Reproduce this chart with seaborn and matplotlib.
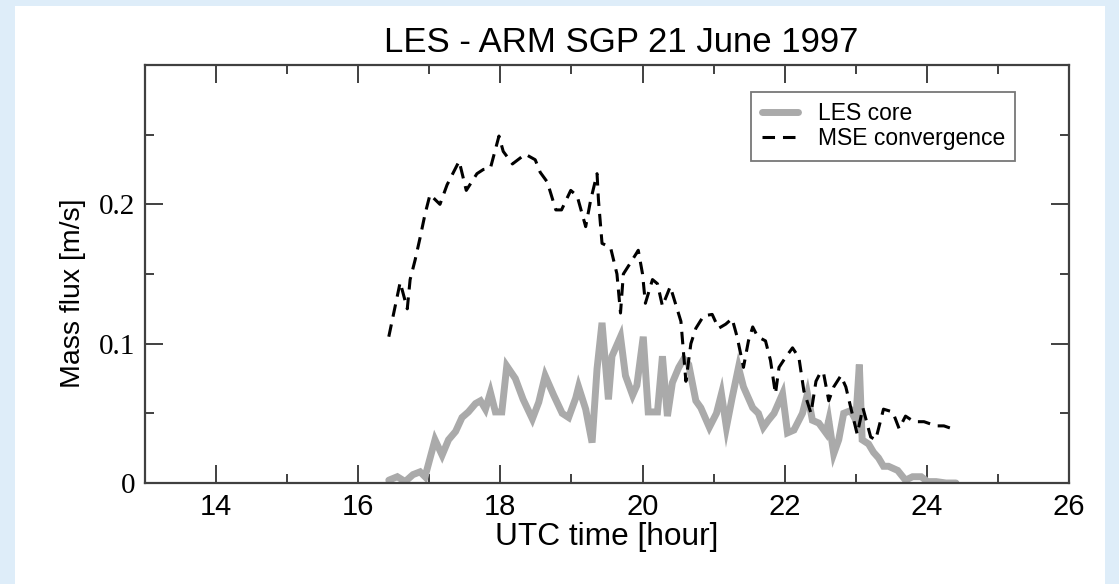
import numpy as np
import pandas as pd
import matplotlib
matplotlib.use("Agg")
import matplotlib.pyplot as plt
import seaborn as sns
from matplotlib.patches import Rectangle
from matplotlib.ticker import MultipleLocator

# ---- data ----
mse_hour = [16.43, 16.59, 16.69, 16.73, 16.80, 16.87, 16.94, 17.01, 17.15, 17.25,
            17.42, 17.52, 17.67, 17.76, 17.86, 17.98, 18.04, 18.17, 18.35, 18.49,
            18.56, 18.66, 18.78, 18.86, 18.99, 19.08, 19.20, 19.27, 19.36, 19.38,
            19.43, 19.55, 19.64, 19.69, 19.73, 19.83, 19.94, 20.00, 20.04, 20.14,
            20.21, 20.28, 20.39, 20.54, 20.61, 20.68, 20.75, 20.86, 20.98, 21.07,
            21.17, 21.26, 21.33, 21.42, 21.49, 21.55, 21.62, 21.73, 21.80, 21.87,
            21.92, 22.01, 22.11, 22.20, 22.27, 22.37, 22.44, 22.51, 22.55, 22.62,
            22.69, 22.79, 22.86, 22.93, 23.02, 23.10, 23.21, 23.28, 23.35, 23.39,
            23.52, 23.61, 23.70, 23.82, 23.96, 24.13, 24.24, 24.41]
mse_flux = [0.105, 0.144, 0.125, 0.146, 0.160, 0.176, 0.193, 0.207, 0.200, 0.214,
            0.231, 0.210, 0.222, 0.225, 0.226, 0.249, 0.238, 0.229, 0.236, 0.232,
            0.223, 0.216, 0.196, 0.196, 0.210, 0.206, 0.184, 0.203, 0.222, 0.203,
            0.172, 0.169, 0.150, 0.122, 0.150, 0.158, 0.167, 0.150, 0.129, 0.146,
            0.143, 0.127, 0.141, 0.116, 0.073, 0.100, 0.111, 0.120, 0.121, 0.111,
            0.114, 0.118, 0.105, 0.083, 0.102, 0.112, 0.105, 0.102, 0.088, 0.064,
            0.083, 0.090, 0.097, 0.090, 0.066, 0.050, 0.073, 0.080, 0.078, 0.059,
            0.069, 0.077, 0.069, 0.054, 0.035, 0.054, 0.033, 0.031, 0.045, 0.053,
            0.051, 0.039, 0.048, 0.044, 0.044, 0.041, 0.041, 0.038]

les_hour = [16.43, 16.55, 16.66, 16.77, 16.87, 16.94, 17.08, 17.18, 17.27, 17.37,
            17.46, 17.55, 17.65, 17.72, 17.79, 17.86, 17.93, 18.02, 18.09, 18.21,
            18.32, 18.45, 18.54, 18.63, 18.75, 18.87, 18.96, 19.06, 19.10, 19.20,
            19.29, 19.36, 19.43, 19.52, 19.57, 19.69, 19.76, 19.86, 19.92, 20.01,
            20.08, 20.21, 20.28, 20.35, 20.42, 20.51, 20.58, 20.65, 20.75, 20.82,
            20.94, 21.04, 21.11, 21.18, 21.26, 21.35, 21.42, 21.55, 21.63, 21.70,
            21.77, 21.85, 21.97, 22.04, 22.13, 22.25, 22.32, 22.39, 22.48, 22.58,
            22.62, 22.69, 22.76, 22.83, 22.93, 23.00, 23.05, 23.09, 23.18, 23.25,
            23.32, 23.39, 23.46, 23.59, 23.70, 23.80, 23.92, 24.01, 24.13, 24.27,
            24.41]
les_flux = [0.002, 0.0045, 0.001, 0.006, 0.008, 0.0045, 0.031, 0.020, 0.031, 0.037,
            0.047, 0.051, 0.057, 0.059, 0.053, 0.065, 0.051, 0.051, 0.084, 0.075,
            0.060, 0.046, 0.058, 0.077, 0.063, 0.050, 0.047, 0.061, 0.069, 0.053,
            0.029, 0.082, 0.115, 0.060, 0.091, 0.105, 0.077, 0.063, 0.070, 0.105,
            0.051, 0.051, 0.091, 0.048, 0.072, 0.083, 0.089, 0.085, 0.059, 0.054,
            0.040, 0.050, 0.064, 0.040, 0.061, 0.083, 0.069, 0.054, 0.050, 0.040,
            0.045, 0.050, 0.064, 0.036, 0.038, 0.050, 0.064, 0.045, 0.043, 0.036,
            0.045, 0.021, 0.031, 0.050, 0.052, 0.045, 0.085, 0.031, 0.028, 0.022,
            0.018, 0.012, 0.012, 0.009, 0.002, 0.0045, 0.0045, 0.001, 0.001, 0.000,
            0.000]

series_names = ["LES core", "MSE convergence"]
x_ticks = [14, 16, 18, 20, 22, 24, 26]
y_ticks = [0, 0.1, 0.2]
y_tick_labels = ["0", "0.1", "0.2"]
title = "LES - ARM SGP 21 June 1997"
x_label = "UTC time [hour]"
y_label = "Mass flux [m/s]"

# ---- styling ----
sns.set_style("white")
plt.rcParams['font.family'] = ['Liberation Sans', 'DejaVu Sans']
plt.rcParams['text.color'] = 'black'
plt.rcParams['axes.labelcolor'] = 'black'
plt.rcParams['xtick.color'] = 'black'
plt.rcParams['ytick.color'] = 'black'

W, H = 1119, 584
fig = plt.figure(figsize=(W / 100, H / 100), dpi=100, facecolor="#deedf9")
fig.patches.append(Rectangle((15 / W, 0), (1105 - 15) / W, (H - 6) / H,
                             transform=fig.transFigure, facecolor="white",
                             edgecolor="none", zorder=-10))

ax = fig.add_axes([145 / W, (H - 483) / H, (1069 - 145) / W, (483 - 65) / H])
ax.set_facecolor("white")

les_df = pd.DataFrame({"hour": les_hour, "flux": les_flux})
mse_df = pd.DataFrame({"hour": mse_hour, "flux": mse_flux})

sns.lineplot(data=les_df, x="hour", y="flux", ax=ax, color="#aaaaaa",
             linewidth=5.0, label=series_names[0], solid_joinstyle="miter")
sns.lineplot(data=mse_df, x="hour", y="flux", ax=ax, color="black",
             linewidth=2.2, label=series_names[1], dashes=False)
ax.lines[-1].set_dashes((4.1, 2.6))

ax.set_xlim(13, 26)
ax.set_ylim(0, 0.3)
ax.set_xticks(x_ticks)
ax.xaxis.set_minor_locator(MultipleLocator(1))
ax.set_yticks(y_ticks)
ax.set_yticklabels(y_tick_labels)
ax.yaxis.set_minor_locator(MultipleLocator(0.05))

for s in ax.spines.values():
    s.set_color("#404040")
    s.set_linewidth(1.6)
    s.set_visible(True)

ax.tick_params(which="both", direction="in", top=True, right=True,
               bottom=True, left=True, color="#404040", width=1.4)
ax.tick_params(which="major", length=13, labelsize=21, pad=7)
ax.tick_params(which="minor", length=6.5)
for lab in ax.get_yticklabels():
    lab.set_family(["Liberation Serif", "DejaVu Serif"])
    lab.set_fontsize(21)

ax.set_xlabel(x_label, fontsize=22.8, labelpad=1)
ax.set_ylabel(y_label, fontsize=20.5)
ax.yaxis.set_label_coords(-0.064, 0.455)
ax.set_title(title, fontsize=25, pad=9, x=0.515)

leg = ax.legend(loc="upper right", bbox_to_anchor=(0.942, 0.936), fontsize=16.5,
                frameon=True, fancybox=False, handlelength=1.6,
                handletextpad=0.85, borderpad=0.45, labelspacing=0.1,
                borderaxespad=0)
leg.get_frame().set_edgecolor("#555555")
leg.get_frame().set_linewidth(1.3)

fig.savefig("out.png", dpi=100, facecolor=fig.get_facecolor())
